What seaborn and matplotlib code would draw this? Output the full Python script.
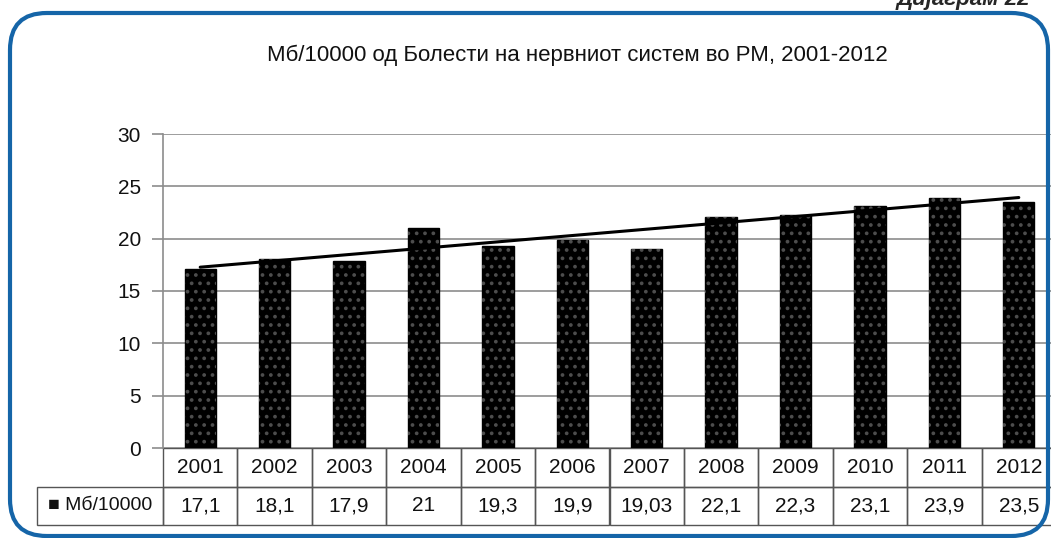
import matplotlib
matplotlib.use('Agg')
import matplotlib.pyplot as plt
import seaborn as sns
import numpy as np
from matplotlib.patches import FancyBboxPatch

years = ['2001', '2002', '2003', '2004', '2005', '2006',
         '2007', '2008', '2009', '2010', '2011', '2012']
values = [17.1, 18.1, 17.9, 21, 19.3, 19.9, 19.03, 22.1, 22.3, 23.1, 23.9, 23.5]
value_labels = ['17,1', '18,1', '17,9', '21', '19,3', '19,9',
                '19,03', '22,1', '22,3', '23,1', '23,9', '23,5']
series_name = 'Мб/10000'
title = 'Мб/10000 од Болести на нервниот систем во РМ, 2001-2012'
yticks = [0, 5, 10, 15, 20, 25, 30]

sns.set_style('white')
plt.rcParams['font.family'] = ['Liberation Sans', 'DejaVu Sans']
plt.rcParams['hatch.linewidth'] = 1.5

W, H = 1051, 538
fig = plt.figure(figsize=(W / 100, H / 100), dpi=100)

# blue rounded frame
frame = FancyBboxPatch((10 / W, 2 / H), 1038 / W, 523 / H,
                       boxstyle='round,pad=0,rounding_size=0.035',
                       transform=fig.transFigure, facecolor='none',
                       edgecolor='#1565a8', linewidth=3, mutation_aspect=W / H)
fig.patches.append(frame)

fig.text(1030 / W, 1 + 1 / H, 'Дијаграм 22', ha='right', va='center',
         fontsize=16, fontweight='bold', fontstyle='italic')
fig.text(577 / W, 1 - 55 / H, title, ha='center', va='center', fontsize=16,
         color='#111111')

ax = fig.add_axes([163 / W, 90 / H, 893 / W, 314 / H])
sns.barplot(x=years, y=values, color='black', width=0.42, saturation=1,
            edgecolor='black', linewidth=1, ax=ax, zorder=3)

# dotted texture on top of the black bars
xs = np.arange(len(values))
ax.bar(xs, values, width=0.42, facecolor='none', edgecolor='#4d4d4d',
       linewidth=0, hatch='..', zorder=3.5)

# linear trend line
k, b = np.polyfit(xs, values, 1)
ax.plot(xs, k * xs + b, color='black', linewidth=2.2, zorder=4)

ax.set_ylim(0, 30)
ax.set_xlim(-0.5, len(years) - 0.5)
ax.set_yticks(yticks)
ax.yaxis.grid(True, color='#8c8c8c', linewidth=1.2)
ax.set_axisbelow(True)
ax.tick_params(axis='y', left=True, length=8, width=1.2, color='#8c8c8c',
               labelsize=15, labelcolor='#111111', pad=8)
ax.tick_params(axis='x', bottom=False, labelbottom=False)
ax.set_xlabel('')
ax.set_ylabel('')
for s in ['top', 'right', 'bottom']:
    ax.spines[s].set_visible(False)
ax.spines['left'].set_color('#8c8c8c')
ax.spines['left'].set_linewidth(1.2)

# data table under the axis
rl = 126 / 893
th = 77 / 314
tab = ax.table(cellText=[['■ ' + series_name] + value_labels],
               colLabels=[''] + years,
               colWidths=[rl] + [1 / len(years)] * len(years),
               cellLoc='center', bbox=[-rl, -th, 1 + rl, th])
tab.auto_set_font_size(False)
for (r, c), cell in tab.get_celld().items():
    cell.set_edgecolor('#555555')
    cell.set_linewidth(1.0)
    cell.get_text().set_fontsize(15)
    cell.get_text().set_color('#111111')
    cell.set_facecolor('none')
tab[0, 0].set_linewidth(0)
tab[0, 0].visible_edges = ''
tab[1, 0].get_text().set_fontsize(14)

fig.savefig('out.png', dpi=100)
